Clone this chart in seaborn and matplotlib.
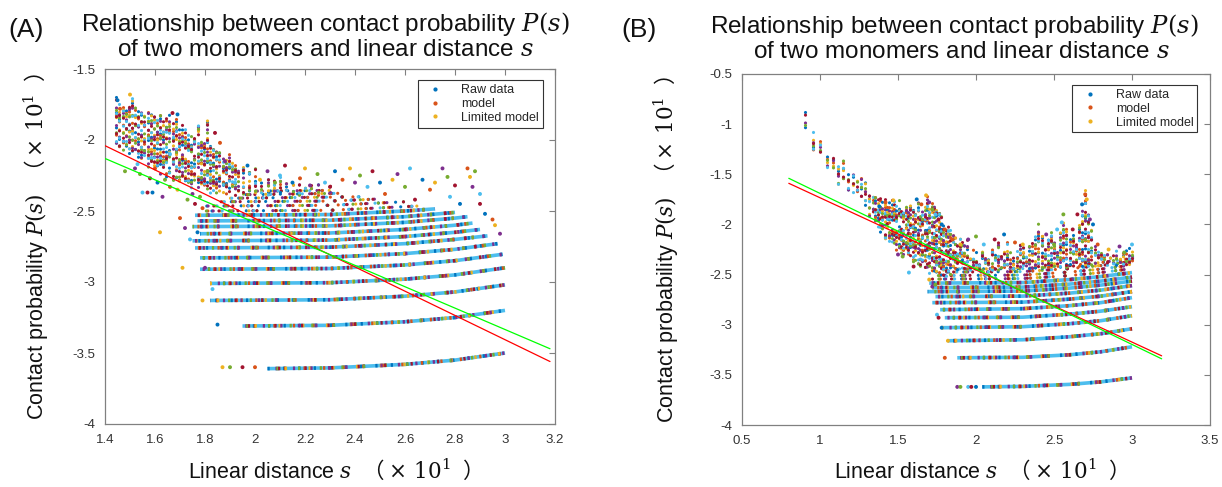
import matplotlib
matplotlib.use("Agg")
import matplotlib.pyplot as plt
from matplotlib.lines import Line2D
import seaborn as sns
import pandas as pd

# ---------------- data ----------------
PAL = ['#0072BD', '#D95319', '#EDB120', '#7E2F8E', '#77AC30', '#4DBEEE', '#A2142F']
legend_labels = ['Raw data', 'model', 'Limited model']

# Panel A : horizontal bands (x points, y points)
bandA_xs = [
    [2.05, 2.3, 2.6, 2.8, 3.0], [1.95, 2.3, 2.6, 2.8, 3.0], [1.82, 2.3, 2.6, 2.8, 3.0],
    [1.82, 2.3, 2.6, 2.8, 3.0], [1.78, 2.3, 2.6, 2.8, 2.99], [1.78, 2.3, 2.6, 2.8, 2.97],
    [1.76, 2.3, 2.6, 2.8, 2.93], [1.75, 2.3, 2.6, 2.8, 2.90], [1.78, 2.3, 2.6, 2.8, 2.87],
    [1.75, 2.3, 2.6, 2.8, 2.85], [1.77, 2.3, 2.6, 2.8], [1.76, 2.3, 2.6, 2.72],
    [1.80, 2.3, 2.65], [1.80, 2.3, 2.6], [1.85, 2.3, 2.5], [1.90, 2.42], [1.95, 2.35], [2.0, 2.3],
]
bandA_ys = [
    [-3.61, -3.605, -3.58, -3.55, -3.50], [-3.31, -3.305, -3.28, -3.25, -3.20],
    [-3.13, -3.125, -3.10, -3.07, -3.02], [-3.01, -3.005, -2.98, -2.95, -2.90],
    [-2.91, -2.905, -2.88, -2.85, -2.805], [-2.83, -2.825, -2.80, -2.77, -2.73],
    [-2.76, -2.755, -2.73, -2.70, -2.675], [-2.71, -2.705, -2.68, -2.65, -2.63],
    [-2.66, -2.655, -2.63, -2.60, -2.585], [-2.61, -2.605, -2.58, -2.55, -2.54],
    [-2.57, -2.565, -2.54, -2.51], [-2.53, -2.525, -2.50, -2.485],
    [-2.50, -2.495, -2.465], [-2.465, -2.46, -2.435], [-2.435, -2.43, -2.415],
    [-2.41, -2.40], [-2.385, -2.375], [-2.36, -2.355],
]
# Panel A : vertical point columns (x, top, bottom)
colA_x = [1.445, 1.457, 1.47, 1.482, 1.495, 1.507, 1.52, 1.532, 1.545, 1.557, 1.57, 1.582, 1.595,
          1.607, 1.62, 1.632, 1.645, 1.657, 1.67, 1.682, 1.695, 1.707, 1.72, 1.732, 1.745, 1.757,
          1.77, 1.782, 1.795, 1.807, 1.82, 1.832, 1.845, 1.857, 1.87, 1.882, 1.895, 1.907, 1.92,
          1.932, 1.95, 1.975, 2.0, 2.025, 2.05, 2.075, 2.1, 2.125, 2.15, 2.175, 2.2, 2.225, 2.25, 2.3]
colA_top = [-1.70, -1.74, -1.72, -1.75, -1.73, -1.68, -1.76, -1.78, -1.77, -1.80, -1.79, -1.82, -1.80,
            -1.84, -1.82, -1.86, -1.84, -1.81, -1.87, -1.82, -1.90, -1.88, -1.92, -1.95, -1.97, -1.93,
            -1.85, -1.98, -2.00, -1.85, -2.02, -2.05, -2.08, -2.04, -2.10, -2.12, -2.09, -2.14, -2.17,
            -2.20, -2.18, -2.22, -2.20, -2.25, -2.22, -2.27, -2.25, -2.28, -2.30, -2.27, -2.30, -2.32,
            -2.30, -2.32]
colA_bot = [-2.02, -2.05, -2.07, -2.08, -2.10, -2.11, -2.08, -2.12, -2.15, -2.12, -2.20, -2.17, -2.22,
            -2.20, -2.24, -2.22, -2.26, -2.25, -2.28, -2.27, -2.30, -2.28, -2.32, -2.30, -2.34, -2.32,
            -2.35, -2.34, -2.36, -2.35, -2.37, -2.36, -2.38, -2.37, -2.38, -2.38, -2.38, -2.38, -2.39,
            -2.39, -2.39, -2.39, -2.39, -2.39, -2.39, -2.39, -2.39, -2.39, -2.39, -2.39, -2.39, -2.39,
            -2.39, -2.39]
# Panel A : loose points
ptsA_x = [1.45, 1.46, 1.50, 1.52, 1.54, 1.55, 1.57, 1.59, 1.60, 1.62, 1.63, 1.64, 1.66, 1.67, 1.69,
          1.70, 1.71, 1.72, 1.73, 1.74, 1.76, 1.77, 1.79, 1.79, 1.80, 1.81, 1.83, 1.84, 1.85, 1.86,
          1.87, 1.88, 1.90, 1.92, 1.95, 1.97, 2.00, 2.02, 2.05, 2.08, 2.10, 2.12, 2.15, 2.18, 2.20,
          2.22, 2.25, 2.28, 2.30, 2.32, 2.35, 2.38, 2.40, 2.42, 2.45, 2.47, 2.50, 2.52, 2.55, 2.57,
          2.60, 2.62, 2.64, 2.67, 2.70, 2.72, 2.75, 2.77, 2.78, 2.80, 2.82, 2.85, 2.86, 2.87, 2.88,
          2.90, 2.90, 2.92, 2.95, 2.96, 2.98, 1.48, 1.53, 1.58, 1.61, 1.66, 1.69, 1.75, 1.78]
ptsA_y = [-1.72, -1.78, -1.68, -2.20, -2.24, -2.37, -2.37, -2.37, -2.20, -2.65, -2.40, -2.28, -2.10,
          -1.81, -1.82, -2.55, -2.90, -2.62, -2.42, -2.70, -2.45, -2.65, -2.48, -3.13, -2.90, -2.22,
          -3.05, -1.95, -3.30, -2.02, -3.60, -2.15, -3.60, -2.30, -3.60, -2.18, -3.60, -2.28, -2.22,
          -2.30, -2.25, -2.18, -2.30, -2.27, -2.20, -2.32, -2.24, -2.30, -2.33, -2.22, -2.28, -2.20,
          -2.30, -2.25, -2.33, -2.22, -2.30, -2.38, -2.28, -2.24, -2.33, -2.20, -2.42, -2.28, -2.35,
          -2.30, -2.20, -2.26, -2.40, -2.32, -2.45, -2.20, -2.26, -2.33, -2.22, -2.38, -2.45, -2.52,
          -2.56, -2.60, -2.66, -2.22, -2.17, -2.27, -2.30, -2.33, -2.35, -2.38, -2.40]
fitA_x = [1.40, 3.18]
fitA_red = [-2.04, -3.56]
fitA_green = [-2.13, -3.47]

# Panel B
bandB_xs = [
    [2.04, 2.3, 2.6, 2.8, 3.0], [1.88, 2.3, 2.6, 2.8, 3.0], [1.82, 2.3, 2.6, 2.8, 3.0],
    [1.78, 2.3, 2.6, 2.8, 3.0], [1.80, 2.3, 2.6, 2.8, 3.0], [1.77, 2.3, 2.6, 2.8, 3.0],
    [1.72, 2.3, 2.6, 2.8, 3.0], [1.74, 2.3, 2.6, 2.8, 3.0], [1.69, 2.3, 2.6, 2.8, 3.0],
    [1.72, 2.3, 2.6, 2.8, 3.0], [1.70, 2.3, 2.6, 2.8, 3.0], [1.72, 2.3, 2.6, 2.8, 3.0],
    [1.75, 2.3, 2.6, 2.8, 3.0], [1.80, 2.3, 2.6, 2.8, 3.0], [1.85, 2.3, 2.6, 2.8, 3.0],
]
bandB_ys = [
    [-3.62, -3.615, -3.595, -3.57, -3.53], [-3.33, -3.325, -3.30, -3.27, -3.22],
    [-3.16, -3.15, -3.12, -3.09, -3.04], [-3.03, -3.02, -2.99, -2.96, -2.91],
    [-2.93, -2.925, -2.895, -2.865, -2.82], [-2.85, -2.84, -2.81, -2.78, -2.73],
    [-2.78, -2.775, -2.745, -2.715, -2.67], [-2.72, -2.715, -2.685, -2.655, -2.61],
    [-2.67, -2.665, -2.635, -2.605, -2.565], [-2.63, -2.625, -2.595, -2.565, -2.525],
    [-2.585, -2.58, -2.55, -2.52, -2.48], [-2.545, -2.54, -2.51, -2.48, -2.44],
    [-2.51, -2.505, -2.475, -2.445, -2.405], [-2.475, -2.47, -2.44, -2.41, -2.37],
    [-2.445, -2.44, -2.41, -2.38, -2.34],
]
colB_x = [0.904, 0.957, 1.0, 1.043, 1.081, 1.113, 1.149, 1.18, 1.21, 1.235, 1.26, 1.288, 1.316,
          1.342, 1.355, 1.37, 1.385, 1.40, 1.415, 1.43, 1.445, 1.46, 1.475, 1.49, 1.505, 1.52,
          1.535, 1.55, 1.565, 1.58, 1.595, 1.61, 1.625, 1.64, 1.655, 1.67, 1.685, 1.70, 1.715,
          1.73, 1.745, 1.76, 1.775, 1.79, 1.805, 1.82, 1.835, 1.85, 1.865, 1.88, 1.895, 1.91,
          1.925, 1.94, 1.96, 1.98, 2.00, 2.02, 2.04, 2.06, 2.08, 2.10, 2.12, 2.14, 2.16, 2.18,
          2.20, 2.22, 2.24, 2.26, 2.28, 2.30, 2.32, 2.34, 2.36, 2.38, 2.40, 2.42, 2.44, 2.46,
          2.48, 2.50, 2.52, 2.54, 2.56, 2.58, 2.60, 2.62, 2.64, 2.66, 2.68, 2.70, 2.72, 2.74,
          2.76, 2.78, 2.80, 2.82, 2.84, 2.86, 2.88, 2.90, 2.92, 2.94, 2.96, 2.98, 3.00]
colB_top = [-0.88, -1.07, -1.10, -1.27, -1.29, -1.39, -1.35, -1.48, -1.45, -1.53, -1.52, -1.58, -1.67,
            -1.70, -1.72, -1.74, -1.73, -1.76, -1.74, -1.78, -1.75, -1.74, -1.77, -1.80, -1.76,
            -1.79, -1.82, -1.78, -1.85, -1.80, -1.83, -1.88, -1.78, -1.86, -1.83, -1.80, -1.71,
            -1.82, -1.78, -1.80, -1.85, -1.88, -1.92, -1.95, -1.98, -2.00, -2.05, -2.08, -2.12,
            -2.15, -2.10, -2.18, -2.20, -2.15, -2.28, -2.22, -2.25, -2.30, -2.20, -2.27, -2.30,
            -2.22, -2.28, -2.18, -2.30, -2.25, -2.18, -2.27, -2.30, -2.25, -2.15, -2.20, -2.30,
            -2.22, -2.15, -2.10, -1.99, -2.05, -2.20, -2.12, -2.06, -2.18, -2.25, -2.08, -1.95,
            -2.03, -2.15, -2.10, -2.20, -2.00, -1.85, -1.66, -1.88, -2.05, -2.22, -2.25, -2.28,
            -2.30, -2.27, -2.32, -2.28, -2.25, -2.30, -2.26, -2.25, -2.22, -2.20]
colB_bot = [-1.04, -1.27, -1.28, -1.50, -1.46, -1.64, -1.59, -1.69, -1.71, -1.69, -1.73, -1.81, -1.92,
            -1.90, -2.00, -2.05, -2.10, -2.08, -2.15, -2.12, -2.20, -2.18, -2.22, -2.25, -2.24,
            -2.28, -2.30, -2.32, -2.35, -2.33, -2.38, -2.36, -2.40, -2.42, -2.40, -2.45, -2.44,
            -2.48, -2.46, -2.50, -2.52, -2.50, -2.52, -2.55, -2.52, -2.50, -2.50, -2.48, -2.50,
            -2.48, -2.45, -2.45, -2.45, -2.45, -2.45, -2.45, -2.45, -2.45, -2.45, -2.45, -2.45,
            -2.45, -2.45, -2.45, -2.45, -2.45, -2.45, -2.45, -2.45, -2.44, -2.44, -2.44, -2.44,
            -2.44, -2.43, -2.43, -2.43, -2.43, -2.43, -2.43, -2.42, -2.42, -2.42, -2.42, -2.42,
            -2.42, -2.42, -2.41, -2.41, -2.41, -2.41, -2.41, -2.41, -2.41, -2.41, -2.41, -2.41,
            -2.40, -2.40, -2.40, -2.40, -2.40, -2.40, -2.40, -2.40, -2.40, -2.40]
ptsB_x = [1.38, 1.42, 1.47, 1.50, 1.53, 1.57, 1.60, 1.62, 1.65, 1.68, 1.70, 1.72, 1.74, 1.76, 1.78,
          1.80, 1.70, 1.72, 1.74, 1.75, 1.76, 1.78, 1.80, 1.82, 1.88, 1.90, 1.95, 1.97, 2.00, 1.85,
          1.90, 1.95, 2.00, 2.05, 2.12, 2.18, 2.25, 2.30, 2.45, 2.50, 2.52, 2.62, 2.75, 2.78, 2.85,
          2.92, 2.95, 3.00, 2.65, 2.68, 2.70, 2.71, 2.73, 2.56, 2.55]
ptsB_y = [-1.82, -1.78, -1.76, -2.30, -2.32, -2.48, -2.42, -1.75, -1.80, -1.71, -1.78, -1.85, -1.90,
          -1.95, -2.00, -2.05, -2.55, -2.62, -2.60, -2.90, -2.93, -3.03, -3.33, -3.16, -3.62, -3.62,
          -3.62, -3.62, -3.62, -2.15, -2.20, -2.15, -2.12, -2.20, -2.15, -2.10, -2.18, -2.20, -2.10,
          -2.20, -2.05, -2.05, -2.00, -2.20, -2.25, -2.22, -2.28, -2.20, -1.90, -1.80, -1.70, -1.75,
          -1.95, -1.90, -1.98]
fitB_x = [0.80, 3.19]
fitB_red = [-1.59, -3.31]
fitB_green = [-1.54, -3.34]

xticksA = [1.4, 1.6, 1.8, 2.0, 2.2, 2.4, 2.6, 2.8, 3.0, 3.2]
xlabA = ['1.4', '1.6', '1.8', '2', '2.2', '2.4', '2.6', '2.8', '3', '3.2']
yticksA = [-4, -3.5, -3, -2.5, -2, -1.5]
ylabA = ['-4', '-3.5', '-3', '-2.5', '-2', '-1.5']
xticksB = [0.5, 1.0, 1.5, 2.0, 2.5, 3.0, 3.5]
xlabB = ['0.5', '1', '1.5', '2', '2.5', '3', '3.5']
yticksB = [-4, -3.5, -3, -2.5, -2, -1.5, -1, -0.5]
ylabB = ['-4', '-3.5', '-3', '-2.5', '-2', '-1.5', '-1', '-0.5']

title_line1 = 'Relationship between contact probability $P(s)$'
title_line2 = 'of two monomers and linear distance $s$'
ylabel_txt = 'Contact probability $P(s)$  $\\mathsf{（}\\times\\,10^{1}\\;\\;\\mathsf{）}$'
xlabel_txt = 'Linear distance $s$  $\\mathsf{（}\\times\\,10^{1}\\;\\;\\mathsf{）}$'

# ---------------- style ----------------
sns.set_theme(style='white')
plt.rcParams['font.family'] = ['Liberation Sans', 'Noto Sans CJK SC', 'DejaVu Sans']
plt.rcParams['mathtext.fontset'] = 'custom'
plt.rcParams['mathtext.rm'] = 'DejaVu Serif'
plt.rcParams['mathtext.it'] = 'DejaVu Serif:italic'
plt.rcParams['mathtext.bf'] = 'DejaVu Serif:bold'
plt.rcParams['mathtext.sf'] = 'Noto Sans CJK SC'
plt.rcParams['lines.scale_dashes'] = False

fig = plt.figure(figsize=(12.22, 4.87), dpi=100)
axA = fig.add_axes([105 / 1222, 63 / 487, 450 / 1222, 355 / 487])
axB = fig.add_axes([742 / 1222, 62 / 487, 468 / 1222, 351 / 487])

PERIODS = [9.5, 12.5, 15.5, 11.0, 14.0, 17.5, 10.5]


def band(ax, xs, ys, idx, solid, lw=2.6):
    if solid:
        ax.plot(xs, ys, color=PAL[5], lw=lw, solid_capstyle='butt', zorder=2)
        cols = [0, 1, 2, 3, 4, 6]
        on, scale = 1.6, 1.0
    else:
        cols = [0, 1, 2, 3, 4, 5, 6]
        on, scale = 0.01, 1.3
    for j, c in enumerate(cols):
        p = PERIODS[j] * scale
        off = (idx * 3.7 + j * 2.3) % p
        ax.plot(xs, ys, color=PAL[c], lw=lw if solid else 2.3, linestyle=(off, (on, p)),
                dash_capstyle='butt' if solid else 'round', zorder=2)


def column(ax, x, top, bot, idx, lw=2.3, scale=1.15):
    for j in range(7):
        p = PERIODS[(j + idx) % 7] * scale
        off = (idx * 2.9 + j * 1.7) % p
        ax.plot([x, x], [top, bot], color=PAL[j], lw=lw, linestyle=(off, (0.01, p)),
                dash_capstyle='round', zorder=2)


def panel(ax, bxs, bys, nsolid, cx, ct, cb, px, py, fx, fr, fg):
    for i, (xs, ys) in enumerate(zip(bxs, bys)):
        band(ax, xs, ys, i, i < nsolid)
    for i, (x, t, b) in enumerate(zip(cx, ct, cb)):
        column(ax, x, t, b, i)
    df = pd.DataFrame({'x': px, 'y': py, 'c': [str(i % 7) for i in range(len(px))]})
    sns.scatterplot(data=df, x='x', y='y', hue='c', palette={str(k): PAL[k] for k in range(7)},
                    s=8, linewidth=0, legend=False, ax=ax, zorder=3)
    sns.lineplot(x=fx, y=fr, color='#FF0000', lw=0.9, ax=ax, estimator=None, zorder=4)
    sns.lineplot(x=fx, y=fg, color='#00FF00', lw=0.9, ax=ax, estimator=None, zorder=4)


panel(axA, bandA_xs, bandA_ys, 12, colA_x, colA_top, colA_bot, ptsA_x, ptsA_y,
      fitA_x, fitA_red, fitA_green)
panel(axB, bandB_xs, bandB_ys, 11, colB_x, colB_top, colB_bot, ptsB_x, ptsB_y,
      fitB_x, fitB_red, fitB_green)

for ax, xl, yl, xt, xtl, yt, ytl in [
        (axA, (1.4, 3.2), (-4, -1.5), xticksA, xlabA, yticksA, ylabA),
        (axB, (0.5, 3.5), (-4, -0.5), xticksB, xlabB, yticksB, ylabB)]:
    ax.set_xlim(*xl)
    ax.set_ylim(*yl)
    ax.set_xticks(xt)
    ax.set_xticklabels(xtl)
    ax.set_yticks(yt)
    ax.set_yticklabels(ytl)
    ax.tick_params(direction='in', length=4, width=0.8, color='#808080', top=True, right=True,
                   labelsize=9.5, labelcolor='#333333', pad=7)
    for s in ax.spines.values():
        s.set_color('#808080')
        s.set_linewidth(0.9)
        s.set_visible(True)
    ax.set_xlabel(xlabel_txt, fontsize=15.5, color='#111111')
    ax.set_ylabel(ylabel_txt, fontsize=15.5, color='#111111')
    handles = [Line2D([], [], ls='', marker='.', markersize=4, color=PAL[k]) for k in range(3)]
    leg = ax.legend(handles, legend_labels, loc='upper right', bbox_to_anchor=(0.973, 0.968),
                    fontsize=9, frameon=True, fancybox=False, edgecolor='#333333', framealpha=1,
                    handlelength=2.2, handletextpad=1.0, borderpad=0.3, labelspacing=0.15,
                    borderaxespad=0)
    leg.get_frame().set_linewidth(0.8)

# two-line titles, one text per line
for cx1, cx2, y1, y2 in [(325, 325, 24, 50), (954, 961, 26, 52)]:
    fig.text(cx1 / 1222, 1 - y1 / 487, title_line1, fontsize=17.5, ha='center', va='center',
             color='#111111')
    fig.text(cx2 / 1222, 1 - y2 / 487, title_line2, fontsize=17.5, ha='center', va='center',
             color='#111111')

axA.yaxis.set_label_coords(-0.12, 0.5)
axB.yaxis.set_label_coords(-0.13, 0.5)
axA.xaxis.set_label_coords(0.5, -0.093)
axB.xaxis.set_label_coords(0.5, -0.093)

fig.text(8 / 1222, 1 - 30 / 487, '(A)', fontsize=19, va='center', ha='left', color='#111111')
fig.text(621 / 1222, 1 - 30 / 487, '(B)', fontsize=19, va='center', ha='left', color='#111111')

fig.savefig('out.png', dpi=100)
